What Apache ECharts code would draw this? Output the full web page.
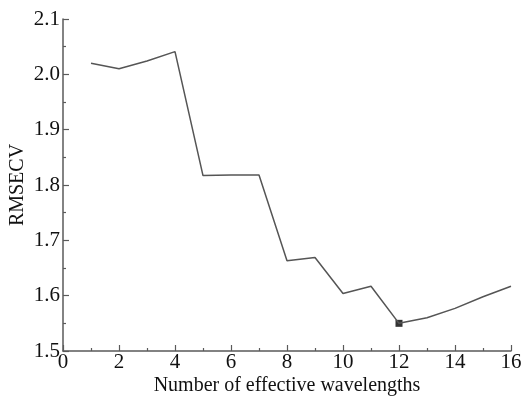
<!DOCTYPE html>
<html><head><meta charset="utf-8">
<script src="https://cdn.jsdelivr.net/npm/echarts@6/dist/echarts.min.js"></script>
<style>html,body{margin:0;padding:0;background:#fff}#c{width:525px;height:397px}</style>
</head><body><div id="c"></div>
<script>
const xValues = [1,2,3,4,5,6,7,8,9,10,11,12,13,14,15,16];
const rmsecv = [2.020,2.010,2.024,2.041,1.817,1.818,1.818,1.663,1.669,1.604,1.617,1.550,1.560,1.577,1.598,1.617];
const optimalPoint = [12, 1.550];
const xTitle = 'Number of effective wavelengths';
const yTitle = 'RMSECV';

const font = 'Liberation Serif';
const axisColor = '#5a5a5a';
const richLbl = {t:{fontFamily:font,fontSize:21,color:'#111'}};
const chart = echarts.init(document.getElementById('c'));
chart.setOption({
  animation:false,
  backgroundColor:'#fff',
  textStyle:{fontFamily:font},
  grid:{left:63,right:14,top:19,bottom:46,containLabel:false,outerBoundsMode:'none'},
  xAxis:{type:'value',min:0,max:16,interval:2,
    name:xTitle,nameLocation:'middle',nameGap:25,nameMoveOverlap:false,
    nameTextStyle:{fontFamily:font,fontSize:20,color:'#111'},
    axisLine:{lineStyle:{color:axisColor,width:1.5}},
    axisTick:{inside:true,length:6,lineStyle:{color:axisColor,width:1.2}},
    minorTick:{show:true,splitNumber:2,length:3,lineStyle:{color:axisColor,width:1.2}},
    axisLabel:{fontFamily:font,fontSize:21,color:'#111',margin:1,
      formatter:v=>'{t|'+v+'}',rich:richLbl},
    splitLine:{show:false}},
  yAxis:{type:'value',min:1.5,max:2.1,interval:0.1,
    name:yTitle,nameLocation:'middle',nameGap:35,nameMoveOverlap:false,
    nameTextStyle:{fontFamily:font,fontSize:20,color:'#111'},
    axisLine:{show:true,lineStyle:{color:axisColor,width:1.5}},
    axisTick:{show:true,inside:true,length:6,lineStyle:{color:axisColor,width:1.2}},
    minorTick:{show:true,splitNumber:2,length:3,lineStyle:{color:axisColor,width:1.2}},
    axisLabel:{fontFamily:font,fontSize:21,color:'#111',margin:3,
      formatter:v=>'{t|'+v.toFixed(1)+'}',rich:richLbl},
    splitLine:{show:false}},
  series:[
    {type:'line',data:xValues.map((x,i)=>[x,rmsecv[i]]),showSymbol:false,
     lineStyle:{color:'#555',width:1.5}},
    {type:'scatter',data:[optimalPoint],symbol:'rect',symbolSize:7,itemStyle:{color:'#000'}}
  ]
});
</script></body></html>
